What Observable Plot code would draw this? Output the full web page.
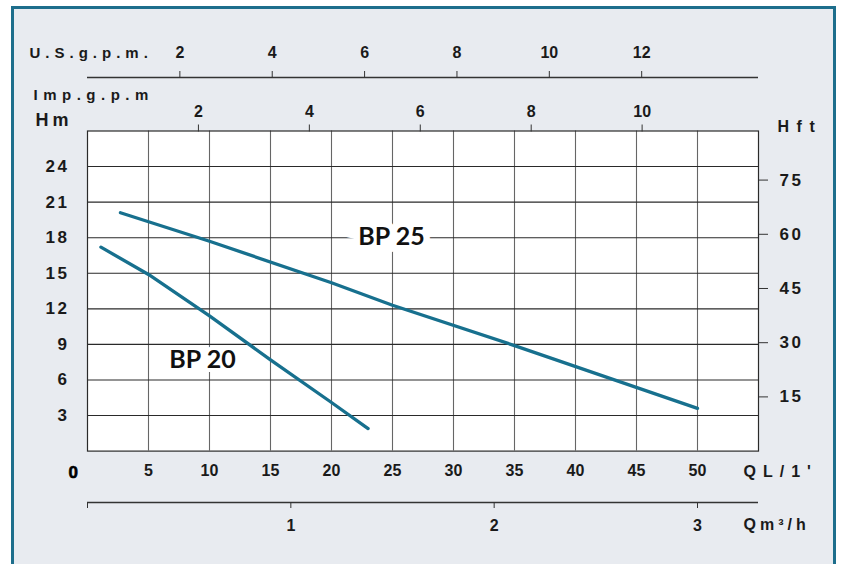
<!DOCTYPE html>
<html><head><meta charset="utf-8">
<script src="https://cdn.jsdelivr.net/npm/d3@7"></script>
<script src="https://cdn.jsdelivr.net/npm/@observablehq/plot@0.6"></script>
<style>
html,body{margin:0;padding:0;background:#fff;}
#wrap{position:relative;width:841px;height:564px;overflow:hidden;background:#fff;}
#panel{position:absolute;left:11px;top:6px;width:825px;height:640px;border:3px solid #1d6e8c;background:#e8ebf0;box-sizing:border-box;}
#wrap svg{position:absolute;left:0;top:0;background:transparent;overflow:visible;}
g[aria-label="y-axis tick label"] text{letter-spacing:2.5px;}
g[aria-description="unit-us"] text{letter-spacing:5px;}
g[aria-description="unit-imp"] text{letter-spacing:5.5px;}
g[aria-description="unit-hm"] text{letter-spacing:4px;}
g[aria-description="unit-hft"] text{letter-spacing:7.5px;}
g[aria-description="unit-ql"] text{letter-spacing:7px;}
g[aria-description="unit-m3"] text{letter-spacing:4px;}
</style></head>
<body><div id="wrap"><div id="panel"></div></div>
<script>
// ---- data ----
const lpmTicks = [5, 10, 15, 20, 25, 30, 35, 40, 45, 50];
const hmTicks = [3, 6, 9, 12, 15, 18, 21, 24];
const hftTicks = [15, 30, 45, 60, 75];
const usgpmTicks = [2, 4, 6, 8, 10, 12];
const impgpmTicks = [2, 4, 6, 8, 10];
const m3hTicks = [0, 1, 2, 3];

const seriesNames = ["BP 25", "BP 20"];
const bp25Q = [2.7, 10, 20, 25, 35, 50];
const bp25H = [20.1, 17.7, 14.2, 12.3, 8.9, 3.6];
const bp20Q = [1.1, 5, 10, 15, 20, 23];
const bp20H = [17.2, 14.9, 11.4, 7.7, 4.1, 1.9];

const unitLabels = ["U.S.g.p.m.", "Imp.g.p.m", "Hm", "Hft", "QL/1'", "Qm³/h", "0"];

// unit conversions
const L_PER_USGAL = 3.785411784, L_PER_IMPGAL = 4.54609, M_PER_FT = 0.3048;
const Q_MAX = 55, H_MAX = 27;

const rows = [
  ...bp25Q.map((q, i) => ({q, h: bp25H[i], s: seriesNames[0]})),
  ...bp20Q.map((q, i) => ({q, h: bp20H[i], s: seriesNames[1]}))
];

const FONT = "'Liberation Sans Narrow', 'Liberation Sans', Arial, sans-serif";
const INK = "#1a1a1a";
const CURVE = "#17708e";
const W = 841, H = 564;
const ML = 87, MR = 83, MT = 130.5, MB = 113.4;

const baseStyle = {background: "transparent", fontFamily: FONT, fontSize: "15px", color: INK};

const unitText = (label, cls, o) => Plot.text([label], {text: d => d, fontWeight: "bold", fill: INK, lineAnchor: "middle", ariaDescription: cls, ...o});
const seriesLabel = (row, dx, dy, halo) => Plot.text([row], {x: "q", y: "h", text: "s", dx, dy, fontFamily: "Lato, sans-serif", fontWeight: 700, fontSize: 25, fill: "#111", stroke: "white", strokeWidth: halo, strokeLinejoin: "miter", paintOrder: "stroke"});

const main = Plot.plot({
  width: W, height: H,
  marginLeft: ML, marginRight: MR, marginTop: MT, marginBottom: MB,
  x: {domain: [0, Q_MAX]},
  y: {domain: [0, H_MAX]},
  style: baseStyle,
  marks: [
    Plot.frame({fill: "white", stroke: "none"}),
    Plot.ruleX(lpmTicks, {stroke: "#666", strokeWidth: 1.1}),
    Plot.ruleY(hmTicks, {stroke: "#2a2a2a", strokeWidth: 1.1}),
    Plot.frame({stroke: "#2a2a2a", strokeWidth: 1.2}),
    // series labels, anchored to a curve point with pixel offsets
    seriesLabel(rows[3], -1, -68, 13),
    seriesLabel(rows[8], -7, 44, 8),
    Plot.line(rows, {x: "q", y: "h", z: "s", stroke: CURVE, strokeWidth: 3.3}),
    // axes
    Plot.axisY(hmTicks, {anchor: "left", tickSize: 0, tickPadding: 18, label: null, fontSize: 17, fontWeight: "bold", fill: INK}),
    Plot.axisY(hftTicks.map(f => f * M_PER_FT), {anchor: "right", tickSize: 9, tickPadding: 12, label: null, tickFormat: d => Math.round(d / M_PER_FT), fontSize: 17, fontWeight: "bold", fill: INK, stroke: "#333"}),
    Plot.axisX(lpmTicks, {anchor: "bottom", tickSize: 0, tickPadding: 14, label: null, fontSize: 16, fontWeight: "bold", fill: INK}),
    Plot.axisX(impgpmTicks.map(g => g * L_PER_IMPGAL), {anchor: "top", tickSize: 7, tickPadding: 7, label: null, tickFormat: d => Math.round(d / L_PER_IMPGAL), fontSize: 16, fontWeight: "bold", fill: INK, stroke: "#333"}),
    // unit labels
    unitText(unitLabels[0], "unit-us", {frameAnchor: "top-left", dx: -58, dy: -78, textAnchor: "start", fontSize: 15}),
    unitText(unitLabels[1], "unit-imp", {frameAnchor: "top-left", dx: -54, dy: -36, textAnchor: "start", fontSize: 15}),
    unitText(unitLabels[2], "unit-hm", {frameAnchor: "top-left", dx: -52, dy: -11, textAnchor: "start", fontSize: 18}),
    unitText(unitLabels[3], "unit-hft", {frameAnchor: "top-right", dx: 19, dy: -4, textAnchor: "start", fontSize: 16}),
    unitText(unitLabels[4], "unit-ql", {frameAnchor: "bottom-right", dx: -15, dy: 20.5, textAnchor: "start", fontSize: 16}),
    unitText(unitLabels[5], "unit-m3", {frameAnchor: "bottom-right", dx: -15, dy: 74, textAnchor: "start", fontSize: 16}),
    Plot.text([unitLabels[6]], {text: d => d, frameAnchor: "bottom-left", lineAnchor: "middle", dx: -19, dy: 21.5, fontSize: 17, fontWeight: 900, fill: "#000", stroke: "#000", strokeWidth: 0.6})
  ]
});

// U.S. gallons per minute axis (top)
const usAxis = Plot.plot({
  width: W, height: H,
  marginLeft: ML, marginRight: MR, marginTop: 77, marginBottom: H - 78,
  x: {domain: [0, Q_MAX / L_PER_USGAL]},
  y: {domain: [0, 1], axis: null},
  style: baseStyle,
  marks: [
    Plot.ruleY([1], {stroke: "#333", strokeWidth: 1.3}),
    Plot.axisX(usgpmTicks, {anchor: "top", tickSize: 7, tickPadding: 13, label: null, fontSize: 16, fontWeight: "bold", fill: INK, stroke: "#333"})
  ]
});

// cubic metres per hour axis (bottom)
const m3Axis = Plot.plot({
  width: W, height: H,
  marginLeft: ML, marginRight: MR, marginTop: 501, marginBottom: H - 502,
  x: {domain: [0, Q_MAX * 60 / 1000]},
  y: {domain: [0, 1], axis: null},
  style: baseStyle,
  marks: [
    Plot.ruleY([0], {stroke: "#333", strokeWidth: 1.3}),
    Plot.axisX(m3hTicks, {anchor: "bottom", tickSize: 6, tickPadding: 11, label: null, tickFormat: d => d === 0 ? "" : d, fontSize: 16, fontWeight: "bold", fill: INK, stroke: "#333"})
  ]
});

const wrap = document.getElementById("wrap");
wrap.appendChild(main);
wrap.appendChild(usAxis);
wrap.appendChild(m3Axis);
</script>
</body></html>
